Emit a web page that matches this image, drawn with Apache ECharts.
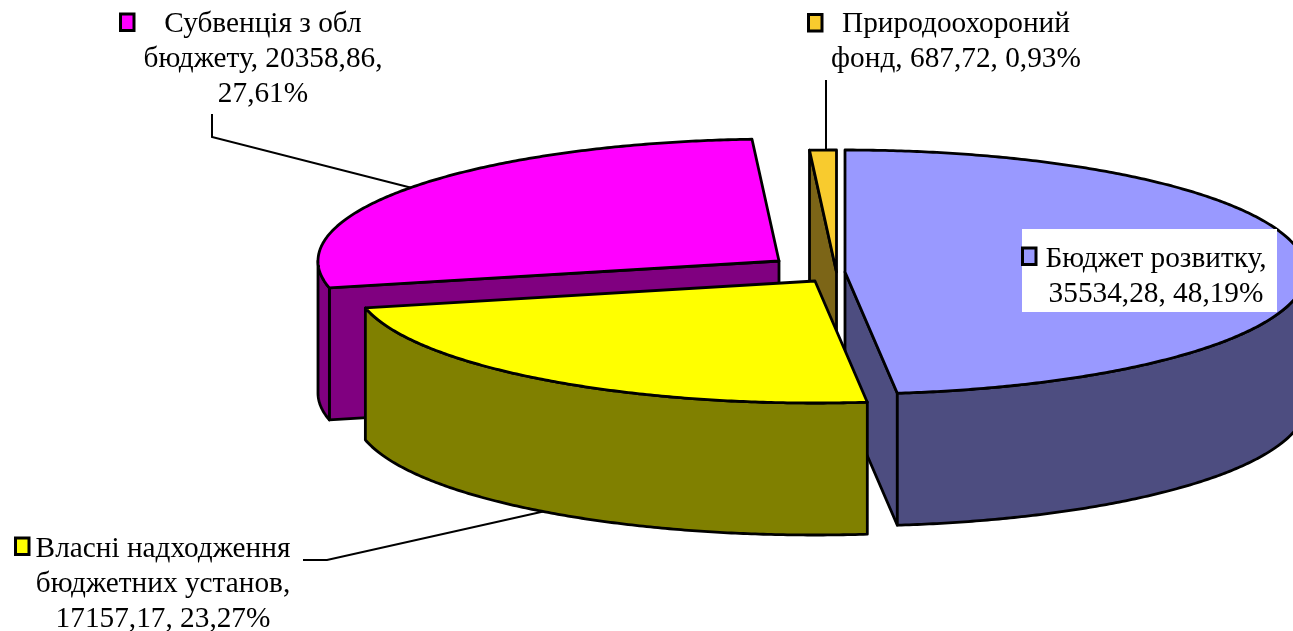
<!DOCTYPE html>
<html>
<head>
<meta charset="utf-8">
<style>html,body{margin:0;padding:0;background:#fff;overflow:hidden}#c{width:1293px;height:631px}</style>
<script src="https://cdn.jsdelivr.net/npm/echarts@6/dist/echarts.min.js"></script>
</head>
<body>
<div id="c"></div>
<script>
// Data
const categories = ['Бюджет розвитку', 'Власні надходження бюджетних установ', 'Субвенція з обл бюджету', 'Природоохороний фонд'];
const values = [35534.28, 17157.17, 20358.86, 687.72];
const labelTexts = [
  'Бюджет розвитку,\n35534,28, 48,19%',
  'Власні надходження\nбюджетних установ,\n17157,17, 23,27%',
  'Субвенція з обл\nбюджету, 20358,86,\n27,61%',
  'Природоохороний\nфонд, 687,72, 0,93%'
];

// Styles
const topColors = ['#9999FF', '#FFFF00', '#FF00FF', '#F8CB2E'];
const sideColors = ['#4D4D80', '#808000', '#800080', '#7C6517'];
// Layout: projected pie radii, extrusion, per-slice explosion position
const RX = 461, RY = 122, DEPTH = 132;
const sliceCentres = [[845, 272], [815, 281], [779, 261], [836.5, 272]];
const paintOrder = [3, 2, 0, 1];
const labelBoxes = [
  {x: 1156, y: 277, key: [1022.5, 248]},
  {x: 163, y: 584, key: [15.5, 538]},
  {x: 263, y: 59, key: [120.5, 14]},
  {x: 956, y: 42, key: [808.5, 14.5]}
];
const leaders = [
  null,
  [[303, 560], [327, 560], [550, 510]],
  [[212, 114], [212, 137], [420, 190]],
  [[826, 80], [826, 152]]
];

const total = values.reduce((a, b) => a + b, 0);
let acc = 0;
const angles = values.map(v => { const s = acc; acc += v / total * 360; return [s, acc]; });

function rim(c, deg, dy) {
  const r = deg * Math.PI / 180;
  return [c[0] + RX * Math.sin(r), c[1] - RY * Math.cos(r) + (dy || 0)];
}
function arc(c, a0, a1, dy) {
  const n = Math.max(2, Math.ceil(Math.abs(a1 - a0) / 0.5));
  const pts = [];
  for (let i = 0; i <= n; i++) pts.push(rim(c, a0 + (a1 - a0) * i / n, dy));
  return pts;
}
const stroke = {stroke: '#000', lineWidth: 2.8, lineJoin: 'round'};

function renderSlice(params, api) {
  const idx = api.value(1);
  const [a0, a1] = angles[idx];
  const c = sliceCentres[idx];
  const down = p => [p[0], p[1] + DEPTH];
  const side = {fill: sideColors[idx], ...stroke};
  const children = [];
  const sin0 = Math.sin(a0 * Math.PI / 180), sin1 = Math.sin(a1 * Math.PI / 180);
  if (sin0 < -1e-6) {
    const p = rim(c, a0);
    children.push({type: 'polygon', shape: {points: [c, p, down(p), down(c)]}, style: side});
  }
  if (sin1 > 1e-6) {
    const p = rim(c, a1);
    children.push({type: 'polygon', shape: {points: [c, p, down(p), down(c)]}, style: side});
  }
  const w0 = Math.max(a0, 90), w1 = Math.min(a1, 270);
  if (w1 > w0) {
    const upper = arc(c, w0, w1, 0), lower = arc(c, w1, w0, DEPTH);
    children.push({type: 'polygon', shape: {points: upper.concat(lower)}, style: side});
  }
  children.push({type: 'polygon', shape: {points: [c].concat(arc(c, a0, a1, 0))}, style: {fill: topColors[idx], ...stroke}});
  return {type: 'group', children};
}

const graphics = [];
leaders.forEach(l => {
  if (l) graphics.push({type: 'polyline', z: 1, shape: {points: l}, style: {stroke: '#000', lineWidth: 2, fill: null}});
});
// white plate behind the label that sits on the pie
graphics.push({type: 'rect', z: 20, shape: {x: 1022, y: 229, width: 255, height: 83}, style: {fill: '#fff'}});
labelTexts.forEach((t, i) => {
  const b = labelBoxes[i];
  graphics.push({type: 'text', z: 21, x: b.x, y: b.y, style: {
    text: t, fill: '#000', font: '29.3px "Liberation Serif","Times New Roman",serif',
    align: 'center', verticalAlign: 'middle', lineHeight: 35
  }});
  graphics.push({type: 'rect', z: 21, shape: {x: b.key[0], y: b.key[1], width: 13.5, height: 16.5},
    style: {fill: topColors[i], stroke: '#000', lineWidth: 3}});
});

const chart = echarts.init(document.getElementById('c'), null, {renderer: 'canvas'});
chart.setOption({
  animation: false,
  backgroundColor: '#fff',
  graphic: {elements: graphics},
  series: [{
    type: 'custom',
    coordinateSystem: 'none',
    z: 5,
    silent: true,
    renderItem: renderSlice,
    data: paintOrder.map(i => ({name: categories[i], value: [values[i], i]}))
  }]
});
</script>
</body>
</html>
